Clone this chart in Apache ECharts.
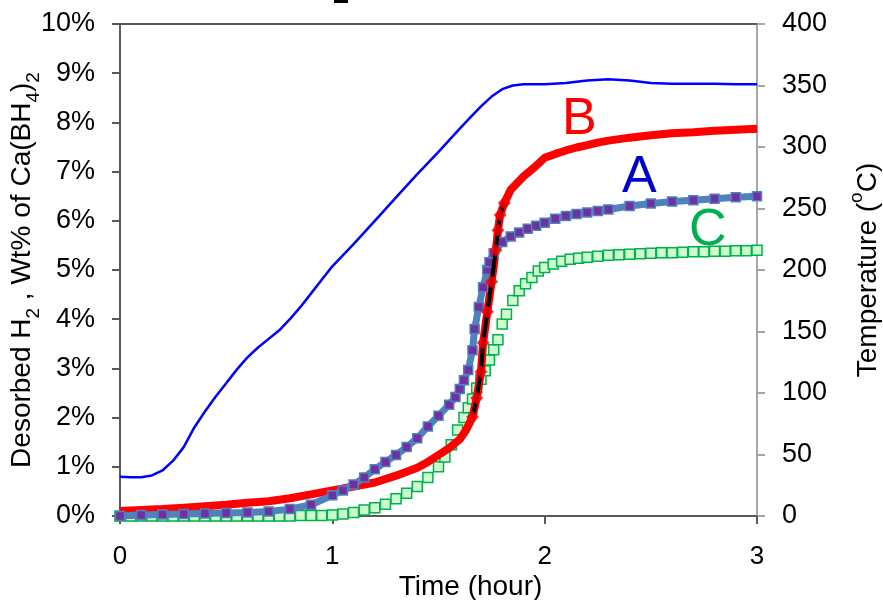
<!DOCTYPE html>
<html>
<head>
<meta charset="utf-8">
<script src="https://cdn.jsdelivr.net/npm/echarts@6/dist/echarts.min.js"></script>
<style>html,body{margin:0;padding:0;background:#fff}#c{width:883px;height:600px}</style>
</head>
<body>
<div id="c"></div>
<script>
// ---- data ----
const xTicks = [0, 1, 2, 3];
// Temperature (°C), right axis
const timeT = [0,0.05,0.1,0.15,0.2,0.25,0.3,0.35,0.4,0.45,0.5,0.55,0.6,0.65,0.7,0.75,0.8,0.85,0.9,0.95,1.0,1.1,1.2,1.3,1.4,1.5,1.6,1.65,1.7,1.75,1.8,1.85,1.9,2.0,2.1,2.2,2.3,2.4,2.5,2.6,2.7,2.8,2.9,3.0];
const valT  = [32,31.5,31.5,33,37,45,56,72,85,97,108,119,129,137,144,151,160,170,181,192,203,221,240,259,278,296,315,324,333,341,347,350,351,351,352,354,355,354,352,351.5,351.5,351.5,351,351];
// A: desorbed H2 wt% (purple squares)
const timeA = [0,0.1,0.2,0.3,0.4,0.5,0.6,0.7,0.8,0.9,1.0,1.05,1.1,1.15,1.2,1.25,1.3,1.35,1.4,1.45,1.5,1.55,1.58,1.6,1.62,1.64,1.66,1.67,1.69,1.71,1.73,1.74,1.76,1.8,1.84,1.88,1.92,1.96,2.0,2.05,2.1,2.15,2.2,2.25,2.3,2.4,2.5,2.6,2.7,2.8,2.9,3.0];
const valA  = [0,0.02,0.03,0.04,0.05,0.06,0.07,0.09,0.14,0.23,0.42,0.52,0.64,0.78,0.95,1.1,1.24,1.4,1.58,1.82,2.04,2.26,2.42,2.58,2.76,2.97,3.37,3.8,4.25,4.65,5.0,5.16,5.34,5.57,5.68,5.76,5.84,5.9,5.96,6.04,6.1,6.14,6.17,6.2,6.23,6.3,6.35,6.39,6.42,6.45,6.48,6.5];
// B: desorbed H2 wt% (red)
const timeB = [0,0.1,0.2,0.3,0.4,0.5,0.6,0.7,0.8,0.9,1.0,1.1,1.2,1.3,1.4,1.45,1.5,1.55,1.6,1.63,1.66,1.68,1.7,1.71,1.73,1.75,1.77,1.78,1.79,1.81,1.84,1.9,1.95,2.0,2.05,2.1,2.15,2.2,2.25,2.3,2.4,2.5,2.6,2.7,2.8,2.9,3.0];
const valB  = [0.1,0.12,0.14,0.17,0.2,0.23,0.27,0.3,0.36,0.44,0.52,0.6,0.68,0.82,0.98,1.1,1.24,1.38,1.56,1.75,2.01,2.4,2.93,3.52,4.15,4.76,5.4,5.81,6.12,6.36,6.63,6.9,7.08,7.28,7.36,7.43,7.49,7.54,7.59,7.63,7.69,7.74,7.78,7.8,7.83,7.85,7.87];
// C: desorbed H2 wt% (green hollow squares)
const timeC = [0,0.05,0.1,0.15,0.2,0.25,0.3,0.35,0.4,0.45,0.5,0.55,0.6,0.65,0.7,0.75,0.8,0.85,0.9,0.95,1.0,1.05,1.1,1.15,1.2,1.25,1.3,1.35,1.4,1.45,1.5,1.53,1.56,1.59,1.62,1.64,1.66,1.68,1.7,1.72,1.74,1.76,1.78,1.8,1.82,1.85,1.88,1.91,1.94,1.97,2.0,2.04,2.08,2.12,2.16,2.2,2.25,2.3,2.35,2.4,2.45,2.5,2.55,2.6,2.65,2.7,2.75,2.8,2.85,2.9,2.95,3.0];
const valC  = [0,0,0,0,0,0,0,0,0,0,0,0,0,0,0,0,0,0.01,0.01,0.01,0.02,0.04,0.07,0.12,0.17,0.24,0.35,0.46,0.6,0.78,1.0,1.2,1.45,1.75,2.0,2.2,2.38,2.6,2.78,2.95,3.17,3.38,3.58,3.9,4.1,4.38,4.58,4.72,4.85,4.98,5.05,5.12,5.18,5.22,5.24,5.26,5.28,5.3,5.31,5.32,5.33,5.34,5.35,5.35,5.36,5.37,5.37,5.38,5.38,5.39,5.39,5.4];
const labels = ['A', 'B', 'C'];

// ---- build ----
const pairs = (t, v) => t.map((x, i) => [x, v[i]]);
const dataB = pairs(timeB, valB);
const steepB = dataB.filter(p => p[0] >= 1.655 && p[0] <= 1.815);
const FONT = '"Liberation Sans", Arial, sans-serif';

const chart = echarts.init(document.getElementById('c'), null, {renderer: 'canvas'});
chart.setOption({
  animation: false,
  backgroundColor: '#ffffff',
  textStyle: {fontFamily: FONT},
  grid: {left: 120, right: 126, top: 24, bottom: 84, containLabel: false, outerBoundsMode: 'none'},
  xAxis: [{
    type: 'value', min: 0, max: 3, interval: 1, position: 'bottom',
    name: 'Time (hour)', nameLocation: 'middle', nameGap: 57, nameMoveOverlap: false,
    nameTextStyle: {fontSize: 28, color: '#000', fontFamily: FONT, padding: [0, 0, 0, 64]},
    axisLine: {show: true, onZero: false, lineStyle: {color: '#595959', width: 2}},
    axisTick: {show: true, inside: false, length: 8, lineStyle: {color: '#595959', width: 2}},
    axisLabel: {fontSize: 26, color: '#000', margin: 28, fontFamily: FONT},
    splitLine: {show: false}
  }, {
    type: 'value', min: 0, max: 3, position: 'top',
    axisLine: {show: true, onZero: false, lineStyle: {color: '#595959', width: 2}},
    axisTick: {show: false}, axisLabel: {show: false}, splitLine: {show: false}
  }],
  yAxis: [{
    type: 'value', min: 0, max: 10, interval: 1, position: 'left',
    name: '{a|Desorbed H}{s|2}{a| , Wt% of Ca(BH}{s|4}{a|)}{s|2}',
    nameLocation: 'middle', nameGap: 77, nameRotate: 90, nameMoveOverlap: false,
    nameTextStyle: {color: '#000', fontSize: 28, fontFamily: FONT,
      rich: {
        a: {fontSize: 28, color: '#000', fontFamily: FONT, verticalAlign: 'bottom', padding: [0, 0, 7, 0]},
        s: {fontSize: 19, color: '#000', fontFamily: FONT, verticalAlign: 'bottom'}
      }},
    axisLine: {show: true, onZero: false, lineStyle: {color: '#595959', width: 2}},
    axisTick: {show: true, length: 8, lineStyle: {color: '#595959', width: 2}},
    axisLabel: {formatter: '{value}%', fontSize: 27, color: '#000', margin: 25, fontFamily: FONT},
    splitLine: {show: false}
  }, {
    type: 'value', min: 0, max: 400, interval: 50, position: 'right',
    name: '{a|Temperature (}{p|o}{a|C)}',
    nameLocation: 'middle', nameGap: 90, nameRotate: 90, nameMoveOverlap: false,
    nameTextStyle: {color: '#000', fontSize: 28, fontFamily: FONT,
      rich: {
        a: {fontSize: 28, color: '#000', fontFamily: FONT, verticalAlign: 'top', padding: [7, 0, 0, 0]},
        p: {fontSize: 19, color: '#000', fontFamily: FONT, verticalAlign: 'top'}
      }},
    axisLine: {show: true, onZero: false, lineStyle: {color: '#A6A6A6', width: 2}},
    axisTick: {show: true, length: 8, lineStyle: {color: '#A6A6A6', width: 2}},
    axisLabel: {fontSize: 27, color: '#000', margin: 25, fontFamily: FONT},
    splitLine: {show: false}
  }],
  series: [
    {
      name: 'C', type: 'line', xAxisIndex: 0, yAxisIndex: 0, data: pairs(timeC, valC),
      symbol: 'rect', symbolSize: 10, showSymbol: true, showAllSymbol: true,
      lineStyle: {width: 0, opacity: 0},
      itemStyle: {color: '#CCFFCC', borderColor: '#00B050', borderWidth: 1.5},
      z: 2
    },
    {
      name: 'B', type: 'line', xAxisIndex: 0, yAxisIndex: 0, data: dataB,
      showSymbol: false, lineStyle: {width: 8, color: '#FF0000'}, itemStyle: {color: '#FF0000'},
      z: 3
    },
    {
      name: 'A', type: 'line', xAxisIndex: 0, yAxisIndex: 0, data: pairs(timeA, valA),
      symbol: 'rect', symbolSize: 9, showSymbol: true, showAllSymbol: true,
      lineStyle: {width: 7, color: '#4F81BD'},
      itemStyle: {color: '#7030A0', borderColor: '#4F81BD', borderWidth: 1.5},
      z: 4
    },
    {
      name: 'B fit', type: 'line', xAxisIndex: 0, yAxisIndex: 0, data: steepB,
      showSymbol: false, lineStyle: {width: 4, color: '#000000'}, z: 5
    },
    {
      name: 'B pts', type: 'scatter', xAxisIndex: 0, yAxisIndex: 0, data: steepB,
      symbol: 'diamond', symbolSize: 13, itemStyle: {color: '#FF0000'}, z: 6
    },
    {
      name: 'Temperature', type: 'line', xAxisIndex: 0, yAxisIndex: 1, data: pairs(timeT, valT),
      showSymbol: false, smooth: false, lineStyle: {width: 2.5, color: '#0000FF'}, z: 7
    }
  ],
  graphic: [
    {type: 'text', left: 562, top: 94, style: {text: labels[1], fontSize: 52, fill: '#FF0000', fontFamily: FONT}},
    {type: 'text', left: 622, top: 152, style: {text: labels[0], fontSize: 52, fill: '#0000CC', fontFamily: FONT}},
    {type: 'text', left: 689, top: 205, style: {text: labels[2], fontSize: 52, fill: '#00B050', fontFamily: FONT}},
    {type: 'rect', shape: {x: 334, y: 0, width: 14, height: 3}, style: {fill: '#000'}}
  ]
});
</script>
</body>
</html>
